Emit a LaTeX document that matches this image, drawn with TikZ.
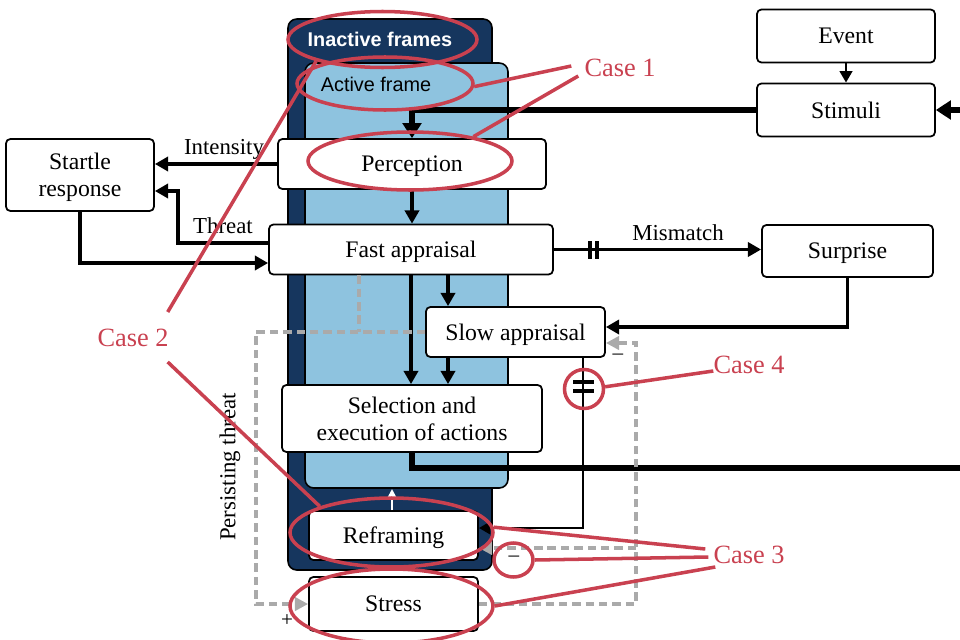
\documentclass[tikz,border=0pt]{standalone}
\usepackage{fontspec}
\setmainfont{Liberation Serif}
\setsansfont{Liberation Sans}
\usetikzlibrary{arrows.meta,shapes.geometric}
\newlength{\pxu}
\setlength{\pxu}{0.02cm}
\definecolor{framenavy}{RGB}{22,54,94}
\definecolor{framesky}{RGB}{142,195,223}
\definecolor{casered}{RGB}{201,65,80}
\definecolor{loopgray}{RGB}{170,170,170}
\tikzstyle{procbox} = [draw=black, fill=white, line width=1pt, rounded corners=2.5pt, inner sep=0pt, text depth=0pt, align=center, font=\fontsize{13.5}{15.5}\selectfont]
\tikzstyle{flow} = [line width=2pt, -{Triangle[length=7.5pt,width=8pt]}]
\tikzstyle{bigflow} = [line width=3.3pt, -{Triangle[length=8.5pt,width=10.5pt]}]
\tikzstyle{thinflow} = [line width=1.6pt, -{Triangle[length=6.5pt,width=7pt]}]
\tikzstyle{persist} = [loopgray, line width=2pt, dash pattern=on 4.8pt off 2.8pt, -{Triangle[length=7.5pt,width=7.5pt]}]
\tikzstyle{ring} = [draw=casered, line width=2pt, ellipse, inner sep=0pt]
\tikzstyle{caseline} = [casered, line width=2pt]
\tikzstyle{caselabel} = [text=casered, font=\fontsize{15}{17}\selectfont]
\tikzstyle{flowlabel} = [font=\fontsize{13}{15}\selectfont]

\begin{document}
\begin{tikzpicture}[x=0.02cm, y=-0.02cm]
\useasboundingbox (0,0) rectangle (960,639);

% frames
\draw[black, fill=framenavy, line width=0.9pt, rounded corners=5pt] (288,19) rectangle (492,570);
\draw[black, fill=framesky, line width=0.9pt, rounded corners=5pt] (305,63) rectangle (508,488);
\node[text=white, font=\sffamily\bfseries\fontsize{11.3}{13}\selectfont] (inactive) at (380,39) {Inactive frames};
\node[font=\sffamily\fontsize{11.3}{13}\selectfont] (active) at (376,84) {Active frame};

% boxes
\node[procbox, minimum width=178\pxu, minimum height=53\pxu] (event) at (846,36) {Event};
\node[procbox, minimum width=178\pxu, minimum height=53\pxu] (stimuli) at (846,110) {Stimuli};
\node[procbox, minimum width=148\pxu, minimum height=72\pxu] (startle) at (80,175) {Startle\\response};
\node[procbox, minimum width=268\pxu, minimum height=50\pxu] (perception) at (412,164) {Perception};
\node[procbox, minimum width=284\pxu, minimum height=50\pxu] (fast) at (411,249.5) {Fast appraisal};
\node[procbox, minimum width=171\pxu, minimum height=52\pxu] (surprise) at (847.5,251) {Surprise};
\node[procbox, minimum width=179\pxu, minimum height=50\pxu] (slow) at (515.5,332) {Slow appraisal};
\node[procbox, minimum width=260\pxu, minimum height=67\pxu] (select) at (412,418.5) {Selection and\\execution of actions};
\node[procbox, minimum width=169\pxu, minimum height=49\pxu] (reframe) at (393.5,535.5) {Reframing};
\node[procbox, minimum width=169\pxu, minimum height=54\pxu] (stress) at (393.5,604) {Stress};

% bends and free ends
\coordinate (colfast) at (448,0);
\coordinate (colcut) at (583,0);
\coordinate (colpersist) at (359,0);
\coordinate (loopin) at (960,110);
\coordinate (loopout) at (960,468);
\coordinate (threatbend) at (178,191);
\coordinate (persistbend) at (256,332);
\coordinate (feedbend) at (636,343);
\coordinate (feedsplit) at (636,548);
\coordinate (activebase) at (392,489);

% flows
\draw[thinflow] (event) -- (stimuli);
\draw[bigflow] (loopin) -- (stimuli.east);
\draw[bigflow] (stimuli.west) -| (perception.north);
\draw[flow] (perception.west) -- (perception.west -| startle.east);
\draw[flow] ([yshift=6.5\pxu]fast.west) -| (threatbend) -- (threatbend -| startle.east);
\draw[flow] (startle.south) |- ([yshift=-13.5\pxu]fast.west);
\draw[flow, line width=2.5pt] (perception.south) -- (perception.south |- fast.north);
\draw[flow] (fast.east) -- (fast.east -| surprise.west);
\draw[line width=2.2pt] (590,241) -- (590,259) (597,241) -- (597,259);
\draw[flow] (surprise.south) |- ([yshift=5\pxu]slow.east);
\draw[flow] (fast.south -| colfast) -- (slow.north -| colfast);
\draw[flow, line width=2.5pt] (fast.south) -- (fast.south |- select.north);
\draw[flow] (slow.south -| colfast) -- (select.north -| colfast);
\draw[line width=3.3pt] (select.south) |- (loopout);
\draw[thinflow] (slow.south -| colcut) |- ([yshift=7.5\pxu]reframe.east);
\draw[line width=2.2pt] (573,382) -- (594,382) (573,391) -- (594,391);
\draw[white, line width=1.4pt, -{Triangle[length=5.5pt,width=5.5pt]}] (reframe.north -| activebase) -- (activebase);

% persisting threat loop
\draw[persist, -] (fast.south -| colpersist) -- (colpersist |- slow.west);
\draw[persist] (slow.west) -- (persistbend) |- (stress.west);
\draw[persist] (stress.east) -| (feedbend) -- (feedbend -| slow.east);
\draw[persist] (feedsplit) -- (feedsplit -| reframe.east);

% labels
\node[flowlabel] (intensitylbl) at (224,149) {Intensity};
\node[flowlabel] (threatlbl) at (223,226) {Threat};
\node[flowlabel] (mismatchlbl) at (678,233) {Mismatch};
\node[flowlabel, rotate=90] (persistlbl) at (230,467) {Persisting threat};
\node[font=\fontsize{12}{14}\selectfont] (pluslbl) at (287,621) {+};
\node[font=\fontsize{12}{14}\selectfont] (minuslbl) at (618,357) {–};
\node[font=\fontsize{12}{14}\selectfont] (minusreframe) at (514,559) {–};

% cases
\node[ring, minimum width=189\pxu, minimum height=56\pxu] (ringinactive) at (382.5,39.5) {};
\node[ring, minimum width=176\pxu, minimum height=53\pxu] (ringactive) at (385,83.5) {};
\node[ring, minimum width=204\pxu, minimum height=58\pxu] (ringperception) at (410,161) {};
\node[ring, minimum width=203\pxu, minimum height=69\pxu] (ringreframe) at (391.5,532.5) {};
\node[ring, minimum width=203\pxu, minimum height=74\pxu] (ringstress) at (391.5,606) {};
\node[ring, minimum width=39\pxu, minimum height=34\pxu] (ringminus) at (513.5,560) {};
\node[ring, minimum width=39\pxu, minimum height=39\pxu] (ringcut) at (584,389) {};

\node[caselabel] (case1) at (620,68) {Case 1};
\node[caselabel] (case2) at (133,338) {Case 2};
\node[caselabel] (case3) at (749,555) {Case 3};
\node[caselabel] (case4) at (749,365) {Case 4};

\draw[caseline] ([shift={(-7,-2)}]case1.west) -- (ringactive.358);
\draw[caseline] ([shift={(0,8)}]case1.west) -- (ringperception.21);
\draw[caseline] ([shift={(-7,-26)}]case2.east) -- (ringinactive.198);
\draw[caseline] ([shift={(-7,24)}]case2.east) -- (ringreframe.160);
\draw[caseline] ([shift={(-2,-6)}]case3.west) -- (ringreframe.3);
\draw[caseline] ([shift={(1,2)}]case3.west) -- (ringminus.0);
\draw[caseline] ([shift={(8,12)}]case3.west) -- (ringstress.0);
\draw[caseline] ([shift={(6,6)}]case4.west) -- (ringcut.6);
\end{tikzpicture}
\end{document}
